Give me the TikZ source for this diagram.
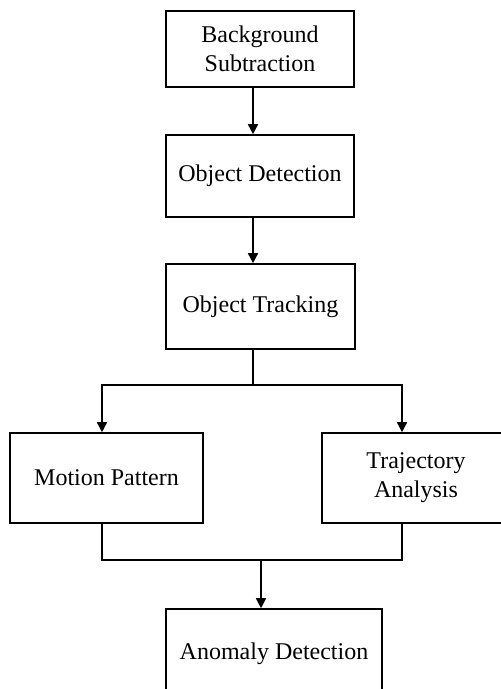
\documentclass[tikz,border=0pt]{standalone}
\usepackage{fontspec}
\setmainfont{Liberation Serif}
\usepackage{tikz}
\usetikzlibrary{arrows.meta}
\tikzstyle{stage}=[draw=black,line width=0.8pt,align=center,inner sep=0pt,font=\fontsize{12}{14.5}\selectfont]
\tikzstyle{flow}=[line width=0.8pt,-{Triangle[width=5pt,length=5pt]}]
\tikzstyle{wire}=[line width=0.8pt]

\begin{document}
\begin{tikzpicture}[x=0.5pt,y=-0.5pt]
		\useasboundingbox (0,0) rectangle (501,689);
		\node[stage,minimum width=94pt,minimum height=38pt] (bs) at (260,49) {Background\\Subtraction};
		\node[stage,minimum width=94pt,minimum height=41pt] (od) at (260,176) {Object Detection};
		\node[stage,minimum width=94.5pt,minimum height=42.5pt] (ot) at (260.5,306.5) {Object Tracking};
		\node[stage,minimum width=96.5pt,minimum height=45pt] (mp) at (106.5,478) {Motion Pattern};
		\node[stage,minimum width=94pt,minimum height=45pt] (ta) at (416,478) {Trajectory\\Analysis};
		\node[stage,minimum width=108pt,minimum height=45pt] (ad) at (274,654) {Anomaly Detection};
		% branch points
		\coordinate (spine) at (253,0);
		\coordinate (fork) at (253,385);
		\coordinate (forkL) at (102,385);
		\coordinate (forkR) at (402,385);
		\coordinate (join) at (261,560);
		\coordinate (joinL) at (102,560);
		\coordinate (joinR) at (402,560);
		\draw[flow] (bs.south -| spine) -- (od.north -| spine);
		\draw[flow] (od.south -| spine) -- (ot.north -| spine);
		\draw[wire] (ot.south -| spine) -- (fork);
		\draw[flow] (fork) -- (forkL) -- (mp.north -| forkL);
		\draw[flow] (fork) -- (forkR) -- (ta.north -| forkR);
		\draw[wire] (mp.south -| joinL) -- (joinL) -- (joinR) -- (ta.south -| joinR);
		\draw[flow] (join) -- (ad.north -| join);
\end{tikzpicture}
\end{document}
